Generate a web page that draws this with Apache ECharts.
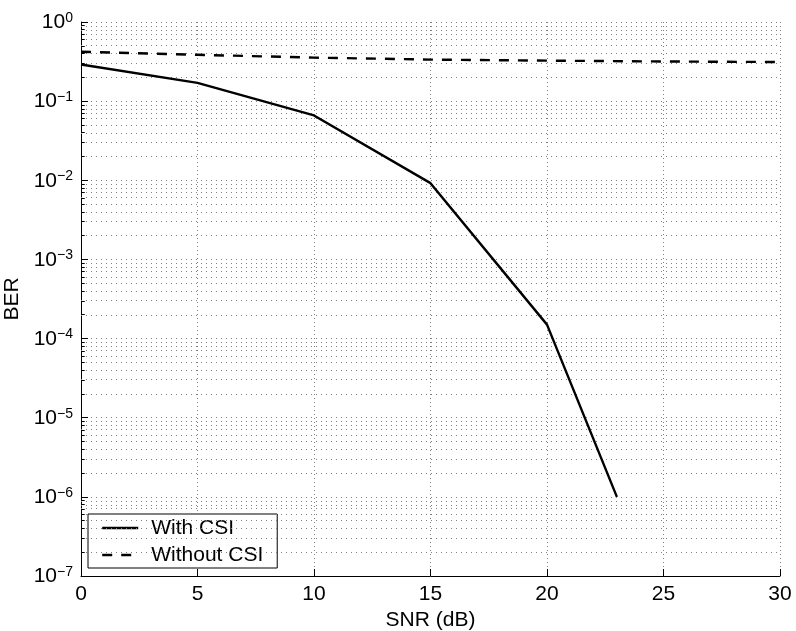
<!DOCTYPE html>
<html><head><meta charset="utf-8">
<script src="https://cdn.jsdelivr.net/npm/echarts@6/dist/echarts.min.js"></script>
<style>html,body{margin:0;padding:0;background:#fff}#c{width:796px;height:631px}</style>
</head><body><div id="c"></div>
<script>
// ---- data ----
const snrWith = [0, 5, 10, 15, 20, 23];
const berWith = [0.29, 0.17, 0.066, 0.0092, 1.5e-4, 1.0e-6];
const snrWithout = [0, 5, 10, 15, 20, 25, 30];
const berWithout = [0.42, 0.385, 0.355, 0.335, 0.325, 0.317, 0.312];
const seriesNames = ['With CSI', 'Without CSI'];
const xTicks = [0, 5, 10, 15, 20, 25, 30];
const yDecades = [-7, -6, -5, -4, -3, -2, -1, 0];
const minorMantissas = [2, 3, 4, 5, 6, 7, 8, 9];

const FONT = 'Liberation Sans, Arial, Helvetica, sans-serif';
// y axis drawn in log10 units (value axis), labels show 10^e
const minorLog = [];
yDecades.slice(0, -1).forEach(e => minorMantissas.forEach(m => minorLog.push(e + Math.log10(m))));

const chart = echarts.init(document.getElementById('c'), null, { renderer: 'canvas' });
chart.setOption({
  backgroundColor: '#fff',
  animation: false,
  textStyle: { fontFamily: FONT },
  grid: { left: 81, right: 16, top: 22, bottom: 55, containLabel: false, outerBoundsMode: 'none' },
  legend: {
    left: 88, top: 514, orient: 'vertical',
    backgroundColor: '#fff', borderColor: '#000', borderWidth: 1, borderRadius: 0,
    padding: [3, 14, 2, 13],
    itemWidth: 36, itemHeight: 22, itemGap: 5,
    itemStyle: { opacity: 0, borderWidth: 0 },
    lineStyle: { width: 2.4 },
    textStyle: { fontFamily: FONT, fontSize: 21, color: '#000', lineHeight: 22, padding: [0, 0, 0, 8] },
    data: seriesNames
  },
  xAxis: {
    type: 'value', min: xTicks[0], max: xTicks[xTicks.length - 1], interval: 5,
    name: 'SNR (dB)', nameLocation: 'middle', nameGap: 28,
    nameTextStyle: { fontFamily: FONT, fontSize: 21, color: '#000' },
    axisLine: { show: true, onZero: false, lineStyle: { color: '#000', width: 1 } },
    axisTick: { show: true, inside: true, length: 7, lineStyle: { color: '#000' } },
    axisLabel: { fontFamily: FONT, fontSize: 21, color: '#000', margin: 8, showMinLabel: true, showMaxLabel: true },
    splitLine: { show: true, lineStyle: { color: '#808080', width: 1, type: [1, 3] } }
  },
  yAxis: {
    type: 'value', min: yDecades[0], max: yDecades[yDecades.length - 1], interval: 1,
    name: 'BER', nameLocation: 'middle', nameGap: 52,
    nameTextStyle: { fontFamily: FONT, fontSize: 21, color: '#000' },
    axisLine: { show: true, onZero: false, lineStyle: { color: '#000', width: 1 } },
    axisTick: { show: true, inside: true, length: 7, lineStyle: { color: '#000' } },
    axisLabel: {
      margin: 8, showMinLabel: true, showMaxLabel: true,
      formatter: function (e) {
        e = Math.round(e);
        return '{b|10}{s|' + (e === 0 ? '0' : '\u2212' + (-e)) + '}';
      },
      rich: {
        b: { fontFamily: FONT, fontSize: 21, color: '#000', lineHeight: 22, verticalAlign: 'bottom' },
        s: { fontFamily: FONT, fontSize: 14, color: '#000', lineHeight: 22, verticalAlign: 'top', padding: [0, 0, 10, 0] }
      }
    },
    splitLine: { show: true, lineStyle: { color: '#808080', width: 1, type: [1, 4] } }
  },
  series: [
    {
      name: seriesNames[0], type: 'line', symbol: 'none',
      data: snrWith.map((x, i) => [x, Math.log10(berWith[i])]),
      lineStyle: { color: '#000', width: 2.4 }, itemStyle: { color: '#000' },
      markLine: {
        silent: true, symbol: 'none', label: { show: false },
        lineStyle: { color: '#808080', width: 1, type: [1, 4] },
        data: minorLog.map(v => ({ yAxis: v }))
      },
      z: 5
    },
    {
      name: seriesNames[1], type: 'line', symbol: 'none',
      data: snrWithout.map((x, i) => [x, Math.log10(berWithout[i])]),
      lineStyle: { color: '#000', width: 2.4, type: [10, 9] }, itemStyle: { color: '#000' },
      markLine: {
        silent: true, symbol: 'none', label: { show: false },
        lineStyle: { color: '#000', width: 1, type: 'solid' },
        data: minorLog.map(v => [{ coord: [0, v] }, { coord: [0.16, v] }])
      },
      z: 5
    }
  ]
});
</script></body></html>
